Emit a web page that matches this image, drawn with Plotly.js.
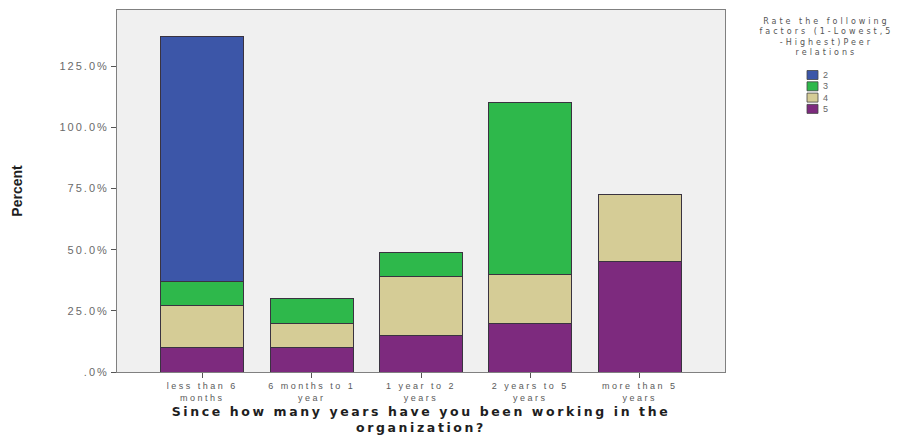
<!DOCTYPE html>
<html>
<head>
<meta charset="utf-8">
<script src="https://cdn.plot.ly/plotly-3.0.1.min.js"></script>
<style>
  html, body { margin: 0; padding: 0; background: #ffffff; }
  #chart { width: 909px; height: 435px; }
  #chart .xtick text { letter-spacing: 2.5px; }
  #chart .ytick text { letter-spacing: 2px; }
  #chart text.xtitle { letter-spacing: 2.6px; }
  #chart g.annotation[data-index="0"] text { letter-spacing: 3px; }
</style>
</head>
<body>
<div id="chart"></div>
<script>
// Categories (x axis)
const categories = [
  "less than 6<br>months",
  "6 months to 1<br>year",
  "1 year to 2<br>years",
  "2 years to 5<br>years",
  "more than 5<br>years"
];

// Series: rating of peer relations (percent), stacked bottom to top 5,4,3,2
const rating5 = [10, 10, 15, 20, 45];
const rating4 = [17, 10, 24, 20, 27.5];
const rating3 = [10, 10, 10, 70, null];
const rating2 = [100, null, null, null, null];

const seriesNames = ["5", "4", "3", "2"];
const seriesValues = [rating5, rating4, rating3, rating2];
const seriesColors = ["#7d2a7e", "#d5cc96", "#2eb84b", "#3c56a8"];

// Y axis ticks
const yTickVals = [0, 25, 50, 75, 100, 125];
const yTickText = [".0%", "25.0%", "50.0%", "75.0%", "100.0%", "125.0%"];

const legendTitle = "Rate the following<br>factors (1-Lowest,5<br>-Highest)Peer<br>relations";
const xTitle = "Since how many years have you been working in the<br>organization?";
const yTitle = "Percent";

const traces = seriesNames.map((name, i) => ({
  type: "bar",
  name: name,
  x: categories,
  y: seriesValues[i],
  marker: { color: seriesColors[i], line: { color: "#3a3340", width: 1 } },
  hoverinfo: "skip",
  showlegend: false
}));

// Plot area in pixels (for placing the legend block in paper units)
const plotL = 117, plotR = 725, plotT = 10, plotB = 372;
const px2x = p => (p - plotL) / (plotR - plotL);
const px2y = p => (plotB - p) / (plotB - plotT);

// Legend block (title + swatches) drawn in paper coordinates
const annotations = [{
  xref: "paper", yref: "paper",
  x: px2x(826), y: px2y(15),
  xanchor: "center", yanchor: "top",
  align: "center",
  showarrow: false,
  text: legendTitle,
  font: { family: "DejaVu Sans, Verdana, sans-serif", size: 8, color: "#555" }
}];
const shapes = [];
const legendOrder = [3, 2, 1, 0]; // 2,3,4,5 from top
legendOrder.forEach((si, row) => {
  const cy = 75 + row * 11.3;
  shapes.push({
    type: "rect", xref: "paper", yref: "paper",
    x0: px2x(807), x1: px2x(818),
    y0: px2y(cy + 4.5), y1: px2y(cy - 4.5),
    fillcolor: seriesColors[si],
    line: { color: "#444", width: 0.8 }
  });
  annotations.push({
    xref: "paper", yref: "paper",
    x: px2x(821), y: px2y(cy),
    xanchor: "left", yanchor: "middle",
    showarrow: false,
    text: seriesNames[si],
    font: { family: "Liberation Sans, Arial, sans-serif", size: 9, color: "#666" }
  });
});

const layout = {
  width: 909,
  height: 435,
  margin: { l: plotL, r: 909 - plotR, t: plotT, b: 435 - plotB },
  paper_bgcolor: "#ffffff",
  plot_bgcolor: "#f0f0f0",
  barmode: "stack",
  bargap: 0.24,
  showlegend: false,
  font: { family: "Liberation Sans, Arial, sans-serif", size: 9, color: "#555" },
  xaxis: {
    type: "category",
    range: [-0.78, 4.78],
    showline: true, linecolor: "#808080", linewidth: 1, mirror: true,
    ticks: "outside", ticklen: 5, tickcolor: "#555",
    tickfont: { family: "Liberation Sans, Arial, sans-serif", size: 9, color: "#5a5a5a" },
    showgrid: false, zeroline: false, automargin: false,
    title: {
      text: xTitle,
      font: { family: "DejaVu Sans, Verdana, sans-serif", size: 12.5, color: "#1e1e1e", weight: "bold" },
      standoff: 14
    }
  },
  yaxis: {
    range: [0, 148],
    tickvals: yTickVals, ticktext: yTickText,
    showline: true, linecolor: "#808080", linewidth: 1, mirror: true,
    ticks: "outside", ticklen: 5, tickcolor: "#555",
    tickfont: { family: "Liberation Sans, Arial, sans-serif", size: 11, color: "#6a6a6a" },
    showgrid: false, zeroline: false, automargin: false,
    title: {
      text: yTitle,
      font: { family: "Liberation Sans, Arial, sans-serif", size: 14, color: "#1e1e1e", weight: "bold" },
      standoff: 45
    }
  },
  annotations: annotations,
  shapes: shapes
};

Plotly.newPlot("chart", traces, layout, { staticPlot: true, displayModeBar: false });
</script>
</body>
</html>
